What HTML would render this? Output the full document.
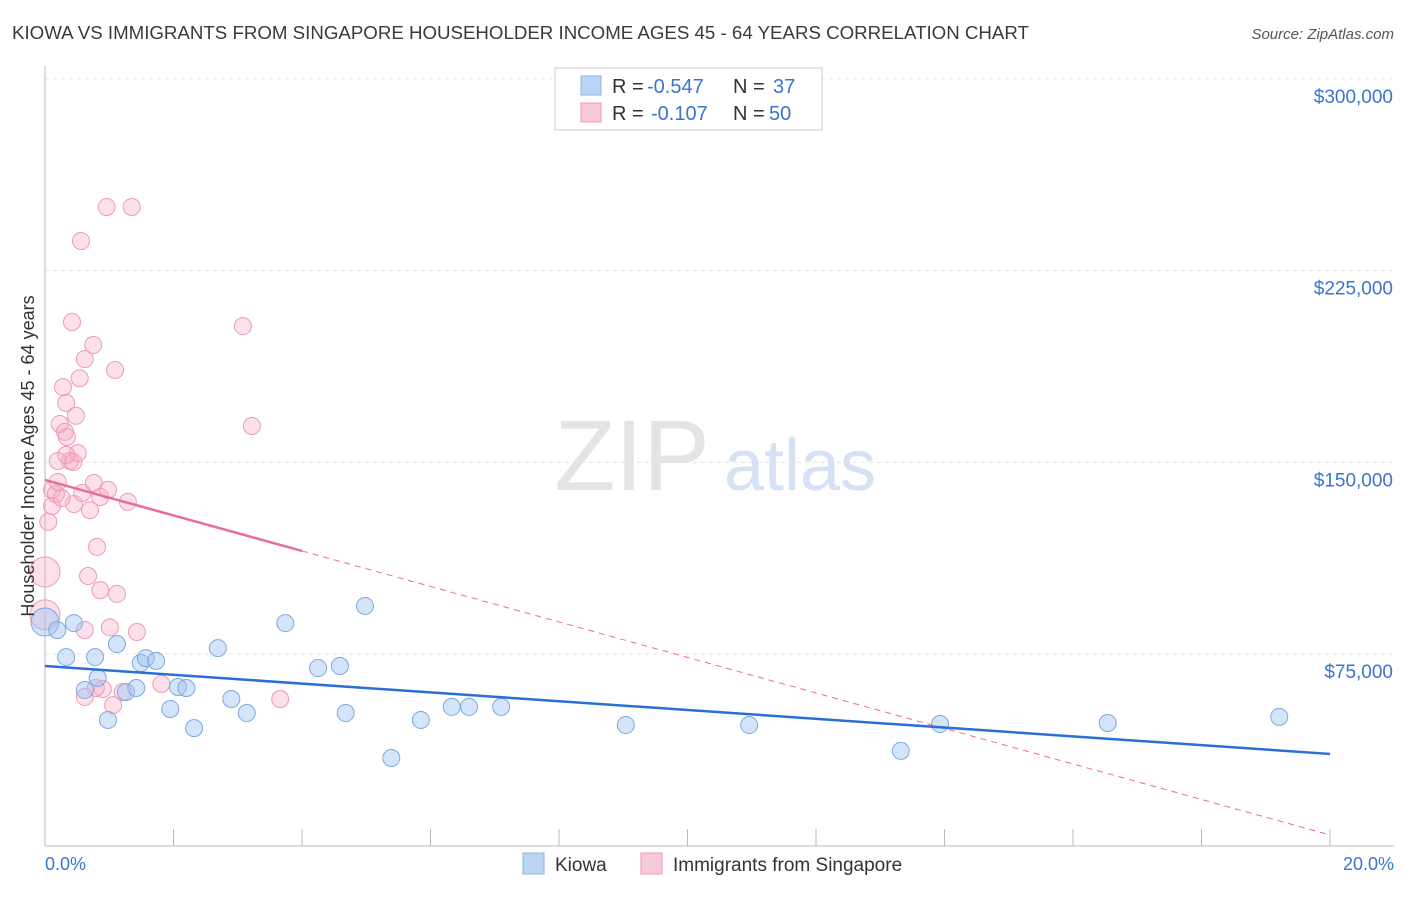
<!DOCTYPE html>
<html><head><meta charset="utf-8"><style>
body{margin:0;background:#fff;font-family:"Liberation Sans",sans-serif;}
svg text{font-family:"Liberation Sans",sans-serif;}
</style></head><body>
<svg id="c" width="1406" height="892" xmlns="http://www.w3.org/2000/svg">
<text x="12" y="39" font-size="18.7" fill="#3a3a3a">KIOWA VS IMMIGRANTS FROM SINGAPORE HOUSEHOLDER INCOME AGES 45 - 64 YEARS CORRELATION CHART</text>
<text x="1394" y="39" font-size="15" fill="#555" text-anchor="end" font-style="italic">Source: ZipAtlas.com</text>
<g>
<text x="632" y="490" font-size="100" fill="#e4e4e4" font-family="Liberation Serif" text-anchor="middle">ZIP</text>
<text x="800" y="490" font-size="72" fill="#d4e2f4" text-anchor="middle">atlas</text>
</g>
<g id="grid"></g>
<g id="axes"></g>
<g id="marks"></g>
<text transform="translate(34,456) rotate(-90)" font-size="18" fill="#333" text-anchor="middle">Householder Income Ages 45 - 64 years</text>
<text x="45" y="870" font-size="18" fill="#3b74d0">0.0%</text>
<text x="1394" y="870" font-size="18" fill="#3b74d0" text-anchor="end">20.0%</text>
<g>
<rect x="555" y="68" width="267" height="62" fill="#fff" stroke="#ccc"/>
<rect x="581" y="76" width="20" height="19" fill="#bcd5f5" stroke="#8fb3e5"/>
<rect x="581" y="103" width="20" height="19" fill="#f9c9d8" stroke="#ee9ab8"/>
<text x="612" y="93" font-size="20" fill="#333">R =</text>
<text x="647" y="93" font-size="20" fill="#3b74d0">-0.547</text>
<text x="733" y="93" font-size="20" fill="#333">N =</text>
<text x="773" y="93" font-size="20" fill="#3b74d0">37</text>
<text x="612" y="120" font-size="20" fill="#333">R =</text>
<text x="651" y="120" font-size="20" fill="#3b74d0">-0.107</text>
<text x="733" y="120" font-size="20" fill="#333">N =</text>
<text x="769" y="120" font-size="20" fill="#3b74d0">50</text>
</g>
<g>
<rect x="523" y="853" width="21" height="21" fill="#bcd5f5" stroke="#8fb3e5"/>
<text x="555" y="871" font-size="19" fill="#333">Kiowa</text>
<rect x="641" y="853" width="21" height="21" fill="#f9c9d8" stroke="#ee9ab8"/>
<text x="673" y="871" font-size="19" fill="#333">Immigrants from Singapore</text>
</g>
</svg>
<script>
const yTicks=[75000,150000,225000,300000];
const yTickLabels=["$75,000","$150,000","$225,000","$300,000"];
const kiowaX=[0,0.19,0.33,0.45,0.62,0.78,0.82,0.98,1.12,1.26,1.42,1.49,1.57,1.73,1.95,2.07,2.20,2.32,2.69,2.90,3.14,3.74,4.25,4.59,4.68,4.98,5.39,5.85,6.33,6.60,7.10,9.04,10.96,13.32,13.93,16.54,19.21];
const kiowaY=[87500,84400,73800,87100,60900,73800,65600,49200,78900,60100,61700,71500,73400,72300,53500,62100,61700,46000,77300,57400,51900,87100,69500,70300,51900,93800,34300,49200,54300,54300,54300,47200,47200,37100,47600,48000,50400];
const singX=[0,0,0.05,0.11,0.11,0.17,0.20,0.20,0.23,0.28,0.31,0.33,0.34,0.39,0.42,0.44,0.45,0.48,0.51,0.54,0.56,0.58,0.62,0.62,0.62,0.67,0.75,0.76,0.81,0.86,0.86,0.90,0.96,0.98,1.01,1.06,1.09,1.12,1.21,1.29,1.35,1.43,1.81,3.08,3.22,3.66,0.33,0.26,0.79,0.70];
const singY=[90300,107100,126700,132900,139200,137600,142300,150500,165000,179400,161900,173200,159900,150500,204900,150100,133700,168200,153600,182900,236600,138000,190400,84400,58200,105500,195900,141900,116900,136400,100000,61300,249900,139200,85400,55000,186100,98500,60100,134500,249900,83600,63300,203300,164200,57400,152900,136000,61700,131300];
const kiowaTrend=[70300,35900];
const singTrend=[143100,4200];
const singSolidEnd=4;
const NS="http://www.w3.org/2000/svg";
const X0=45,X1=1330,Y0=845.7,YPX=191.7/75000;
const sx=v=>X0+(X1-X0)*v/20;
const sy=v=>Y0-v*YPX;
function mk(tag,attrs,parent){const e=document.createElementNS(NS,tag);for(const k in attrs)e.setAttribute(k,attrs[k]);document.getElementById(parent).appendChild(e);return e;}
yTicks.forEach((t,i)=>{
 let g=mk('line',{x1:45,y1:sy(t),x2:1394,y2:sy(t),stroke:'#e3e3e3','stroke-dasharray':'4,4'},'grid');
 
 
 let l=mk('text',{x:1393,y:sy(t)+24,'font-size':19,fill:'#3b74d0','text-anchor':'end'},'axes');
 l.textContent=yTickLabels[i];
 
 
});
let ax=mk('line',{x1:45,y1:66,x2:45,y2:846,stroke:'#bbb'},'axes');


let bx=mk('line',{x1:45,y1:846,x2:1394,y2:846,stroke:'#bbb'},'axes');


for(let i=0;i<=10;i++){
 let t=mk('line',{x1:sx(i*2),y1:829,x2:sx(i*2),y2:846,stroke:'#bbb'},'axes');
 
 
}
singX.forEach((x,i)=>{
 const r=(i<2)?15:8.5;
 let c=mk('circle',{cx:sx(x),cy:sy(singY[i]),r:r,fill:'rgba(246,170,196,0.35)',stroke:'#ee9ab8','stroke-width':1},'marks');
 
 
});
kiowaX.forEach((x,i)=>{
 const r=(i==0)?14:8.5;
 let c=mk('circle',{cx:sx(x),cy:sy(kiowaY[i]),r:r,fill:'rgba(160,196,242,0.45)',stroke:'#7fa8e0','stroke-width':1},'marks');
 
 
});
const sAt=x=>singTrend[0]+(singTrend[1]-singTrend[0])*x/20;
let pd=mk('line',{x1:sx(singSolidEnd),y1:sy(sAt(singSolidEnd)),x2:sx(20),y2:sy(singTrend[1]),stroke:'#e86d9a','stroke-width':1,'stroke-dasharray':'6,5'},'marks');


let ps=mk('line',{x1:sx(0),y1:sy(singTrend[0]),x2:sx(singSolidEnd),y2:sy(sAt(singSolidEnd)),stroke:'#e86d9a','stroke-width':2.5},'marks');


let kt=mk('line',{x1:sx(0),y1:sy(kiowaTrend[0]),x2:sx(20),y2:sy(kiowaTrend[1]),stroke:'#2a6fd6','stroke-width':2.5},'marks');


</script>
</body></html>
